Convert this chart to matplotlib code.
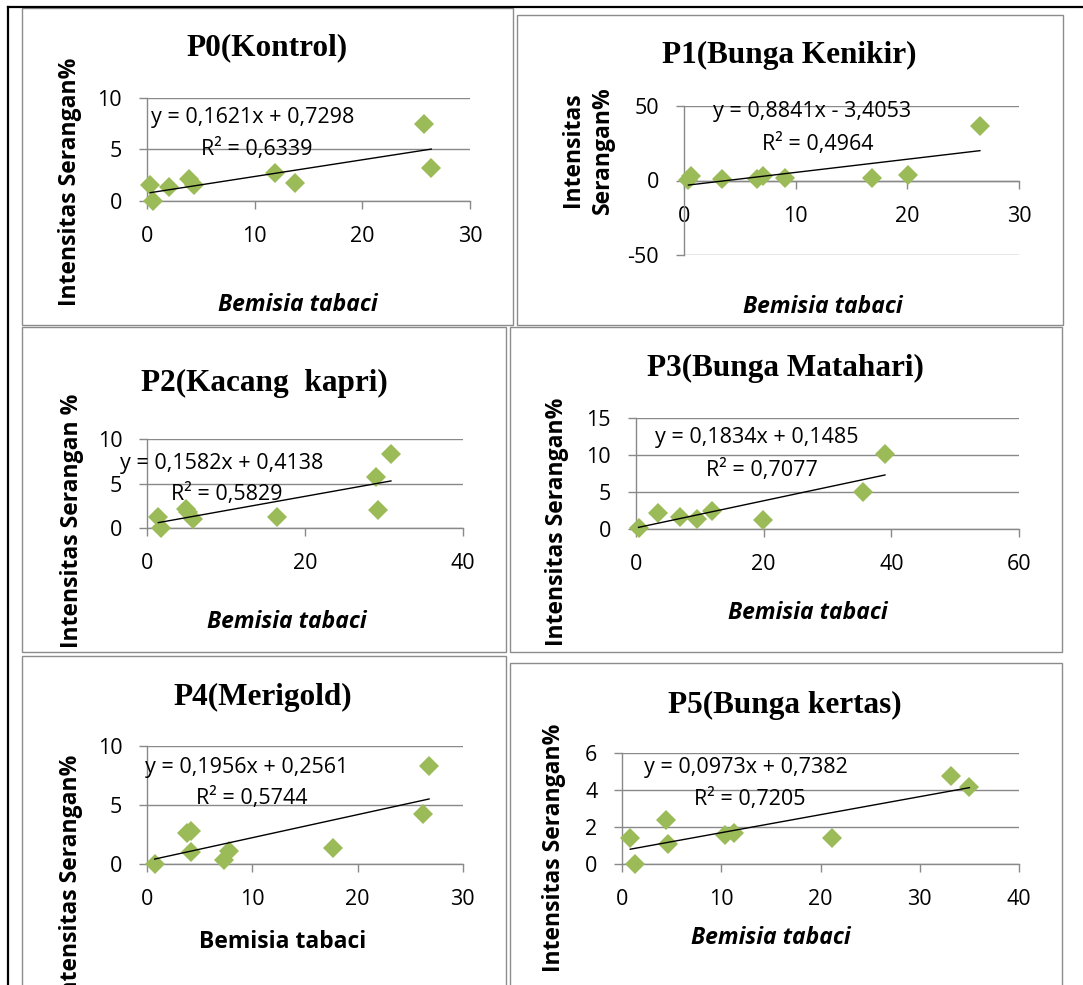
import numpy as np
import matplotlib
matplotlib.use('Agg')
import matplotlib.pyplot as plt
from matplotlib.patches import Rectangle
from matplotlib.lines import Line2D

plt.rcParams['font.family'] = ['Open Sans', 'DejaVu Sans']
plt.rcParams['axes.unicode_minus'] = False

# data
titles = ['P0(Kontrol)', 'P1(Bunga Kenikir)', 'P2(Kacang  kapri)',
          'P3(Bunga Matahari)', 'P4(Merigold)', 'P5(Bunga kertas)']
ylabels = ['Intensitas Serangan%', 'Intensitas\nSerangan%', 'Intensitas Serangan %',
           'Intensitas Serangan%', 'Intensitas Serangan%', 'Intensitas Serangan%']
xlabel = 'Bemisia tabaci'

p0_x = [0.3, 0.6, 2.0, 3.9, 4.4, 11.9, 13.7, 25.7, 26.4]
p0_y = [1.5, 0.0, 1.3, 2.1, 1.5, 2.7, 1.7, 7.4, 3.2]
p1_x = [0.4, 0.6, 3.4, 6.5, 7.1, 9.0, 16.8, 20.1, 26.5]
p1_y = [0.3, 3.0, 0.8, 1.2, 2.8, 1.5, 2.0, 3.6, 36.5]
p2_x = [1.4, 1.7, 4.9, 5.2, 5.8, 16.4, 29.0, 29.2, 30.9]
p2_y = [1.3, 0.0, 2.2, 1.8, 1.0, 1.3, 5.7, 2.1, 8.3]
p3_x = [0.4, 3.5, 6.9, 9.5, 11.9, 19.9, 35.5, 39.0]
p3_y = [0.1, 2.1, 1.6, 1.4, 2.4, 1.2, 5.0, 10.2]
p4_x = [0.7, 3.8, 4.2, 4.2, 7.3, 7.8, 17.7, 26.2, 26.8]
p4_y = [0.0, 2.6, 2.8, 1.0, 0.35, 1.1, 1.3, 4.25, 8.3]
p5_x = [0.8, 1.3, 4.4, 4.6, 10.4, 11.3, 21.1, 33.1, 35.0]
p5_y = [1.4, 0.0, 2.4, 1.1, 1.6, 1.7, 1.4, 4.8, 4.2]

slopes = [0.1621, 0.8841, 0.1582, 0.1834, 0.1956, 0.0973]
intercepts = [0.7298, -3.4053, 0.4138, 0.1485, 0.2561, 0.7382]
r2 = ['0,6339', '0,4964', '0,5829', '0,7077', '0,5744', '0,7205']
equations = ['y = 0,1621x + 0,7298', 'y = 0,8841x - 3,4053', 'y = 0,1582x + 0,4138',
             'y = 0,1834x + 0,1485', 'y = 0,1956x + 0,2561', 'y = 0,0973x + 0,7382']

xmax = [30, 30, 40, 60, 30, 40]
xstep = [10, 10, 20, 20, 10, 10]
ymin = [0, -50, 0, 0, 0, 0]
ymax = [10, 50, 10, 15, 10, 6]
ystep = [5, 50, 5, 5, 5, 2]

xs = [p0_x, p1_x, p2_x, p3_x, p4_x, p5_x]
ys = [p0_y, p1_y, p2_y, p3_y, p4_y, p5_y]

W, H = 1083, 985
fig = plt.figure(figsize=(W / 100, H / 100), dpi=100)
fig.patch.set_facecolor('white')


def fx(x):
    return x / W


def fy(y):
    return 1 - y / H


# layout in pixels
boxes = [(22, 8, 513, 325), (517, 15, 1063, 325), (22, 327, 506, 652),
         (510, 327, 1062, 652), (22, 656, 506, 995), (510, 663, 1062, 995)]
plots = [(147, 97.7, 470, 200.7), (684, 106, 1019, 255), (147.3, 439, 462.7, 528.3),
         (636, 418, 1019, 529), (147.3, 746, 462.7, 863.7), (622.3, 753.3, 1019, 864.3)]
title_pos = [(267, 48), (789, 55), (264, 383), (785, 368), (263, 697), (785, 705)]
ylab_pos = [(70, 182), (588, 150), (72, 521), (557, 522), (71, 755), (554, 848)]
xlab_pos = [(298, 305), (823, 307), (287, 622), (808, 613), (283, 942), (771, 938)]
eq_pos = [(151, 117), (713, 112), (120, 463), (655, 438), (145, 767), (644, 767)]
r2_pos = [(201, 149), (762, 144), (171, 494), (706, 470), (196, 798), (694, 799)]

grid_c = '#898989'
green = '#9bbb59'

for l, t, r, b in boxes:
    fig.patches.append(Rectangle((fx(l), fy(b)), fx(r - l), (b - t) / H,
                                 transform=fig.transFigure, fill=False,
                                 edgecolor='#8c8c8c', lw=1.0))

fig.lines.append(Line2D([fx(8), fx(1083)], [fy(7), fy(7)], transform=fig.transFigure,
                        color='black', lw=1.6))
fig.lines.append(Line2D([fx(8), fx(8)], [fy(7), fy(985)], transform=fig.transFigure,
                        color='black', lw=1.6))

for i in range(6):
    l, t, r, b = plots[i]
    ax = fig.add_axes([fx(l), fy(b), fx(r - l), (b - t) / H])
    ax.set_facecolor('none')
    ax.set_xlim(0, xmax[i])
    ax.set_ylim(ymin[i], ymax[i])
    ax.set_xticks(np.arange(0, xmax[i] + 1, xstep[i]))
    ax.set_yticks(np.arange(ymin[i], ymax[i] + 1, ystep[i]))
    ax.yaxis.grid(True, color=grid_c, lw=1.0)
    ax.set_axisbelow(True)
    for s in ['top', 'right']:
        ax.spines[s].set_visible(False)
    for s in ['left', 'bottom']:
        ax.spines[s].set_color(grid_c)
        ax.spines[s].set_linewidth(1.0)
    ax.spines['bottom'].set_position(('data', 0))
    ax.tick_params(axis='both', direction='out', length=6, width=1.0, color=grid_c,
                   labelsize=15.5, pad=12)

    x = np.array(xs[i])
    ax.plot(x, ys[i], 'D', color=green, ms=10, mew=0, clip_on=False, zorder=3)
    xl = np.array([x.min(), x.max()])
    ax.plot(xl, slopes[i] * xl + intercepts[i], color='black', lw=1.0, zorder=4)

    fig.text(fx(title_pos[i][0]), fy(title_pos[i][1]), titles[i], ha='center', va='center',
             family='Liberation Serif', weight='bold', fontsize=22.5)
    if i == 4:
        fig.text(fx(ylab_pos[i][0]), fy(ylab_pos[i][1]), ylabels[i], rotation=90,
                 ha='center', va='top', weight='bold', fontsize=16.5)
        fig.text(fx(xlab_pos[i][0]), fy(xlab_pos[i][1]), xlabel, ha='center', va='center',
                 weight='bold', fontsize=16.5)
    else:
        fig.text(fx(ylab_pos[i][0]), fy(ylab_pos[i][1]), ylabels[i], rotation=90,
                 ha='center', va='center', weight='bold', fontsize=16.5,
                 multialignment='center', linespacing=1.3)
        fig.text(fx(xlab_pos[i][0]), fy(xlab_pos[i][1]), xlabel, ha='center', va='center',
                 weight='bold', style='italic', fontsize=16.5)
    fig.text(fx(eq_pos[i][0]), fy(eq_pos[i][1]), equations[i], ha='left', va='center',
             fontsize=15.5)
    fig.text(fx(r2_pos[i][0]), fy(r2_pos[i][1]), 'R² = ' + r2[i], ha='left', va='center',
             fontsize=15.5)

fig.savefig('out.png', dpi=100)
